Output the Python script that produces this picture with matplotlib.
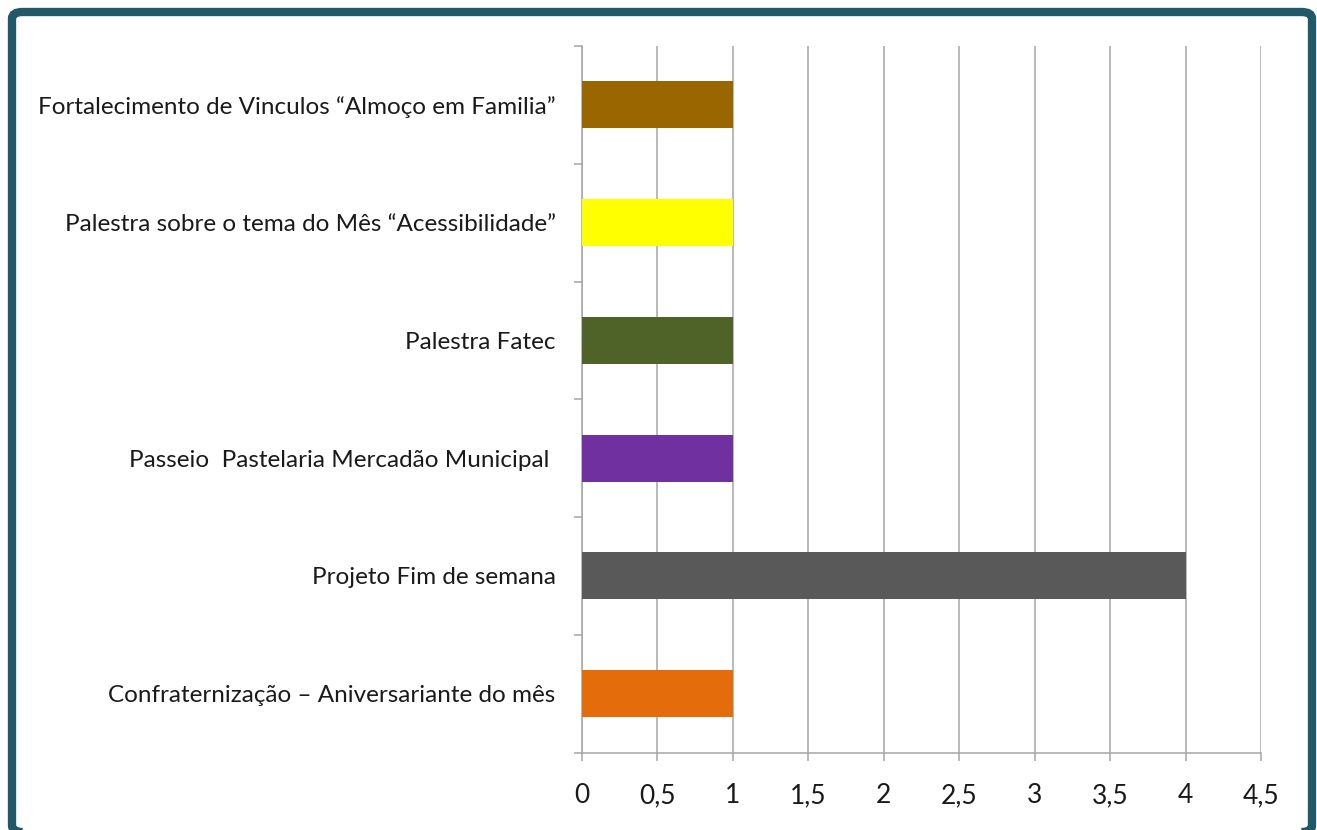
import matplotlib.pyplot as plt
from matplotlib.patches import FancyBboxPatch
from matplotlib.ticker import FixedLocator, FuncFormatter

categories = [
    "Confraternização – Aniversariante do mês",
    "Projeto Fim de semana",
    "Passeio  Pastelaria Mercadão Municipal ",
    "Palestra Fatec",
    "Palestra sobre o tema do Mês “Acessibilidade”",
    "Fortalecimento de Vinculos “Almoço em Familia”",
]
values = [1, 4, 1, 1, 1, 1]
bar_colors = ["#E46C0A", "#595959", "#7030A0", "#4F6228", "#FFFF00", "#996600"]
x_ticks = [0, 0.5, 1, 1.5, 2, 2.5, 3, 3.5, 4, 4.5]

plt.rcParams["font.family"] = ["Lato", "DejaVu Sans"]

W, H = 1317, 830
fig = plt.figure(figsize=(W / 100, H / 100), dpi=100)
fig.patch.set_facecolor("white")

# teal frame around the chart
frame = FancyBboxPatch(
    (12 / W, -2 / H),
    (1312 - 12) / W,
    (820) / H,
    boxstyle="round,pad=0,rounding_size=0.008",
    transform=fig.transFigure,
    facecolor="none",
    edgecolor="#215968",
    linewidth=6,
    zorder=5,
)
fig.patches.append(frame)

ax = fig.add_axes([582 / W, 1 - 752.5 / H, (1261 - 582) / W, (752.5 - 46) / H])
ax.set_facecolor("none")

ypos = list(range(len(categories)))
ax.barh(ypos, values, height=0.4, color=bar_colors, zorder=3)

ax.set_xlim(0, 4.5)
ax.set_ylim(-0.5, len(categories) - 0.5)

ax.set_xticks(x_ticks)
ax.xaxis.set_major_formatter(
    FuncFormatter(lambda v, p: f"{v:g}".replace(".", ","))
)
ax.grid(axis="x", color="#A6A6A6", linewidth=1.1, zorder=0)

# y ticks at category boundaries, labels in between
ax.yaxis.set_major_locator(FixedLocator([i - 0.5 for i in range(len(categories) + 1)]))
ax.yaxis.set_major_formatter(FuncFormatter(lambda v, p: ""))
ax.yaxis.set_minor_locator(FixedLocator(ypos))
ax.set_yticklabels(categories, minor=True)

ax.tick_params(axis="y", which="major", length=6, width=1.1, color="#A6A6A6")
ax.tick_params(axis="y", which="minor", length=0, pad=19, labelsize=17.5, labelcolor="#1a1a1a")
ax.tick_params(axis="x", length=6, width=1.1, color="#A6A6A6", pad=16, labelsize=19, labelcolor="#1a1a1a")

for side in ["top", "right"]:
    ax.spines[side].set_visible(False)
for side in ["left", "bottom"]:
    ax.spines[side].set_color("#A6A6A6")
    ax.spines[side].set_linewidth(1.1)

plt.savefig("out.png", dpi=100)
